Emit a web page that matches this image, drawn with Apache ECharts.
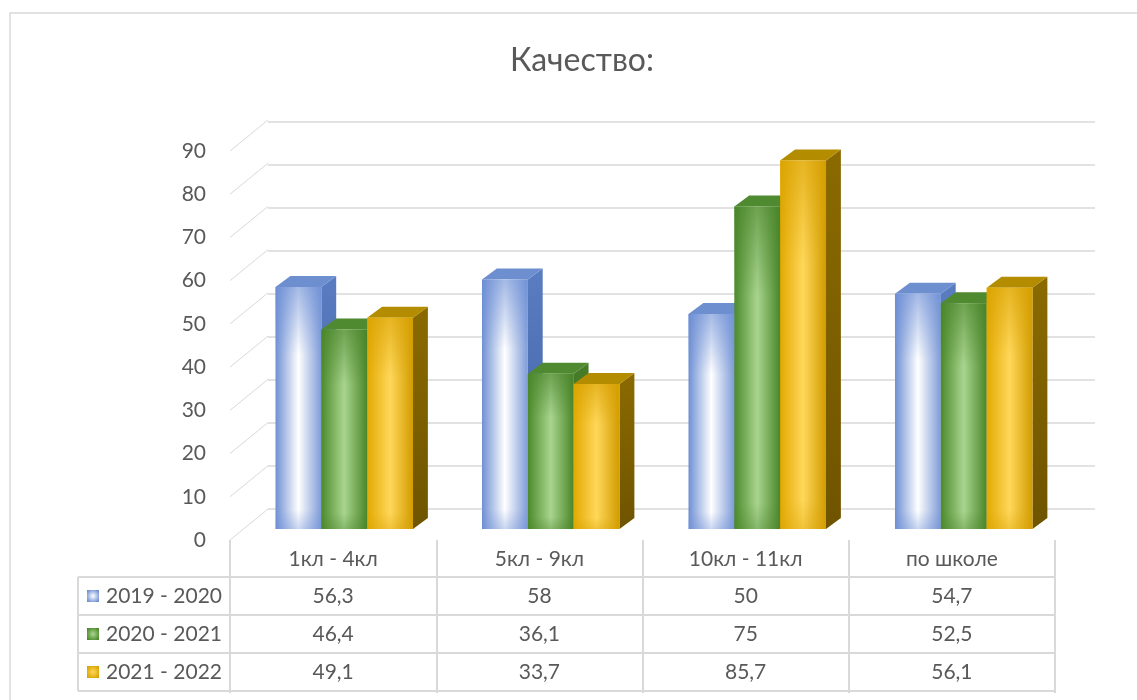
<!DOCTYPE html>
<html>
<head>
<meta charset="utf-8">
<script src="https://cdn.jsdelivr.net/npm/echarts@6/dist/echarts.min.js"></script>
<style>
html,body{margin:0;padding:0;background:#fff;}
#chart{width:1137px;height:700px;}
</style>
</head>
<body>
<div id="chart"></div>
<script>
// ---- data ----
const titleText = 'Качество:';
const categories = ['1кл - 4кл', '5кл - 9кл', '10кл - 11кл', 'по школе'];
const seriesNames = ['2019 - 2020', '2020 - 2021', '2021 - 2022'];
const values2019 = [56.3, 58, 50, 54.7];
const values2020 = [46.4, 36.1, 75, 52.5];
const values2021 = [49.1, 33.7, 85.7, 56.1];
const yMin = 0, yMax = 90, yStep = 10;

// ---- styles ----
const FONT = 'Lato';
const TXT = '#595959';
const LINE = '#d9d9d9';
const seriesValues = [values2019, values2020, values2021];
const palettes = [
  { edgeL: '#6f90d4', mid: '#ffffff', edgeR: '#7e9bd8', overlay: 'rgba(105,140,212,', side: ['#5a7cc0', '#3d5fa6'], top: '#6d8fd0', markEdge: '#6f90d4' },
  { edgeL: '#4b8a2b', mid: '#a9d58f', edgeR: '#4a8629', overlay: 'rgba(72,130,40,', side: ['#477d28', '#345f1c'], top: '#4f8a30', markEdge: '#4b8a2b' },
  { edgeL: '#e2a900', mid: '#ffd75a', edgeR: '#d29c00', overlay: 'rgba(215,160,0,', side: ['#8a6a00', '#6f5400'], top: '#b48c00', markEdge: '#d9a300' }
];
const DEPTH_X = 38, DEPTH_Y = -31;   // wall depth offset (front -> back)

function fmt(v) { return String(v).replace('.', ','); }

const chart = echarts.init(document.getElementById('chart'), null, { renderer: 'canvas' });

function barRenderer(si) {
  const p = palettes[si];
  return function (params, api) {
    const c = api.value(0), v = api.value(1);
    const base = api.coord([c, 0]);
    const top = api.coord([c, v]);
    const bw = api.size([1, 0])[0];
    const w = bw * 0.222;
    const x0 = base[0] - 1.5 * w + si * w;
    const dx = bw * 0.072, dy = -11;
    const h = base[1] - top[1];
    return {
      type: 'group',
      children: [
        { type: 'polygon', shape: { points: [[x0 + w, top[1]], [x0 + w + dx, top[1] + dy], [x0 + w + dx, base[1] + dy], [x0 + w, base[1]]] },
          style: { fill: new echarts.graphic.LinearGradient(0, 0, 0, 1, [{ offset: 0, color: p.side[0] }, { offset: 1, color: p.side[1] }]) } },
        { type: 'polygon', shape: { points: [[x0, top[1]], [x0 + dx, top[1] + dy], [x0 + w + dx, top[1] + dy], [x0 + w, top[1]]] },
          style: { fill: p.top } },
        { type: 'rect', shape: { x: x0, y: top[1], width: w, height: h },
          style: { fill: new echarts.graphic.LinearGradient(0, 0, 1, 0, [{ offset: 0, color: p.edgeL }, { offset: 0.5, color: p.mid }, { offset: 1, color: p.edgeR }]) } },
        { type: 'rect', shape: { x: x0, y: top[1], width: w, height: h },
          style: { fill: new echarts.graphic.LinearGradient(0, 0, 0, 1, [{ offset: 0, color: p.overlay + '0.6)' }, { offset: 0.28, color: p.overlay + '0)' }, { offset: 0.92, color: p.overlay + '0)' }, { offset: 1, color: p.overlay + '0.35)' }]) } }
      ]
    };
  };
}

const barSeries = seriesNames.map(function (name, si) {
  return {
    type: 'custom', name: name, xAxisIndex: 2, yAxisIndex: 2,
    renderItem: barRenderer(si),
    data: seriesValues[si].map(function (v, ci) { return [ci, v]; }),
    z: 5
  };
});

// diagonals of the side wall, drawn from the front axis ticks
const tickValues = [];
for (let t = yMin; t <= yMax; t += yStep) tickValues.push(t);

const diagSeries = {
  type: 'custom', xAxisIndex: 0, yAxisIndex: 0, silent: true, z: 1,
  data: tickValues.map(function (t) { return [0, t]; }),
  renderItem: function (params, api) {
    const p = api.coord([0, api.value(1)]);
    const bw = api.size([1, 0])[0];
    const x = p[0] - bw / 2;
    return { type: 'line', shape: { x1: x, y1: p[1], x2: x + DEPTH_X, y2: p[1] + DEPTH_Y },
      style: { stroke: LINE, lineWidth: 1 } };
  }
};

// data table values
const tableData = [];
seriesValues.forEach(function (arr, si) { arr.forEach(function (v, ci) { tableData.push([ci, si, v]); }); });
const ROW_H = 38, HEAD_H = 37;
const tableSeries = {
  type: 'custom', xAxisIndex: 0, yAxisIndex: 0, silent: true, z: 3,
  data: tableData,
  renderItem: function (params, api) {
    const p = api.coord([api.value(0), 0]);
    const si = api.value(1);
    const y = p[1] + HEAD_H + ROW_H * si + ROW_H / 2;
    return { type: 'text', style: { text: fmt(api.value(2)), x: p[0], y: y, textAlign: 'center', textVerticalAlign: 'middle',
      font: '21px ' + FONT, fill: TXT } };
  }
};

// table grid lines + legend column
const LEG_W = 152;
const tableFrame = {
  type: 'custom', xAxisIndex: 0, yAxisIndex: 0, silent: true, z: 2,
  data: [[0, 0]],
  renderItem: function (params, api) {
    const p = api.coord([0, 0]);
    const bw = api.size([1, 0])[0];
    const xl = p[0] - bw / 2;
    const xr = xl + bw * categories.length;
    const x0 = xl - LEG_W;
    const yTop = p[1] + HEAD_H;
    const children = [];
    for (let r = 0; r <= seriesNames.length; r++) {
      const y = yTop + r * ROW_H;
      children.push({ type: 'line', shape: { x1: x0, y1: y, x2: xr, y2: y }, style: { stroke: LINE, lineWidth: 2 } });
    }
    children.push({ type: 'line', shape: { x1: x0, y1: yTop, x2: x0, y2: yTop + ROW_H * seriesNames.length }, style: { stroke: LINE, lineWidth: 2 } });
    seriesNames.forEach(function (name, si) {
      const cy = yTop + si * ROW_H + ROW_H / 2;
      const pal = palettes[si];
      children.push({ type: 'rect', shape: { x: x0 + 9, y: cy - 6, width: 12, height: 12 },
        style: { fill: new echarts.graphic.RadialGradient(0.5, 0.5, 0.6, [{ offset: 0, color: pal.mid }, { offset: 1, color: pal.markEdge }]) } });
      children.push({ type: 'text', style: { text: name, x: x0 + 28, y: cy, textAlign: 'left', textVerticalAlign: 'middle',
        font: '21px ' + FONT, fill: TXT } });
    });
    return { type: 'group', children: children };
  }
};

const option = {
  animation: false,
  backgroundColor: '#ffffff',
  title: { text: titleText, left: 505, top: 40, textStyle: { fontFamily: FONT, fontSize: 32, fontWeight: 'normal', color: TXT } },
  graphic: [
    { type: 'rect', shape: { x: 10, y: 13, width: 1200, height: 800 }, style: { fill: 'none', stroke: LINE, lineWidth: 1.5 }, z: -10 }
  ],
  grid: [
    { left: 230, width: 825, top: 151, height: 389 },   // front plane (labels, table)
    { left: 268, width: 827, top: 122, height: 387 },   // back wall
    { left: 241, width: 826, top: 142, height: 387 }    // bar plane
  ],
  xAxis: [
    { type: 'category', gridIndex: 0, data: categories, boundaryGap: true,
      axisLine: { show: false },
      axisTick: { show: true, interval: 0, length: HEAD_H + ROW_H * 3 + 2, lineStyle: { color: LINE, width: 2 } },
      axisLabel: { interval: 0, margin: 9, fontFamily: FONT, fontSize: 21, color: TXT } },
    { type: 'category', gridIndex: 1, data: categories, show: false },
    { type: 'category', gridIndex: 2, data: categories, show: false }
  ],
  yAxis: [
    { type: 'value', gridIndex: 0, min: yMin, max: yMax, interval: yStep,
      axisLine: { show: false }, axisTick: { show: false }, splitLine: { show: false },
      axisLabel: { margin: 24, fontFamily: FONT, fontSize: 21, color: TXT } },
    { type: 'value', gridIndex: 1, min: yMin, max: yMax, interval: yStep,
      axisLine: { show: false }, axisTick: { show: false }, axisLabel: { show: false },
      splitLine: { show: true, lineStyle: { color: LINE, width: 1.5 } } },
    { type: 'value', gridIndex: 2, min: yMin, max: yMax, interval: yStep, show: false, splitLine: { show: false } }
  ],
  series: [diagSeries, tableFrame, tableSeries].concat(barSeries)
};
chart.setOption(option);
</script>
</body>
</html>
